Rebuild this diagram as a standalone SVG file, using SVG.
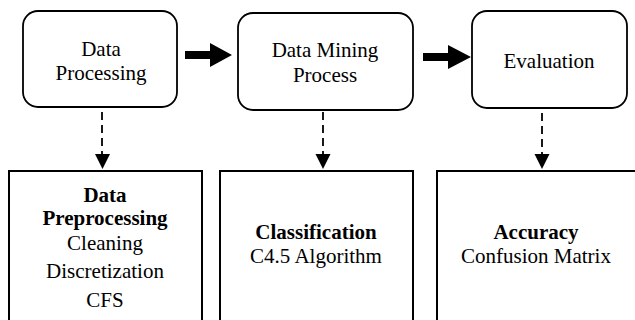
<svg xmlns="http://www.w3.org/2000/svg" width="635" height="320" viewBox="0 0 635 320">
<style>
.rb{fill:#fff;stroke:#000;stroke-width:1.8}
.sb{fill:#fff;stroke:#000;stroke-width:2}
text{font-family:Liberation Serif,Tinos,Times New Roman,Times,DejaVu Serif,serif;font-size:21px;fill:#000;text-anchor:middle}
.b{font-weight:bold}
.d{stroke:#000;stroke-width:1.8;stroke-dasharray:8 5;fill:none}
</style>
<g id="n1"><rect class="rb" x="23" y="11" width="154" height="96" rx="15"/>
<text x="101" y="56">Data</text><text x="101" y="80">Processing</text></g>
<g id="n2"><rect class="rb" x="238" y="13" width="175" height="97" rx="15"/>
<text x="325" y="57">Data Mining</text><text x="325" y="82">Process</text></g>
<g id="n3"><rect class="rb" x="472" y="11" width="155" height="97" rx="15"/>
<text x="549" y="68">Evaluation</text></g>
<g id="n4"><rect class="sb" x="9" y="171" width="193" height="170"/>
<text class="b" x="105" y="202">Data</text>
<text class="b" x="105" y="225">Preprocessing</text>
<text x="105" y="250">Cleaning</text>
<text x="105" y="278">Discretization</text>
<text x="105" y="307">CFS</text></g>
<g id="n5"><rect class="sb" x="220" y="171" width="193" height="170"/>
<text class="b" x="316" y="239">Classification</text>
<text x="316" y="263">C4.5 Algorithm</text></g>
<g id="n6"><rect class="sb" x="437" y="171" width="220" height="170"/>
<text class="b" x="536" y="239">Accuracy</text>
<text x="536" y="263">Confusion Matrix</text></g>
<g id="connectors">
<path d="M185,51 H210 V43 L232,55 L210,67 V59 H185 Z" fill="#000"/>
<path d="M423,53 H448 V45 L471,57 L448,69 V61 H423 Z" fill="#000"/>
<line class="d" x1="102" y1="112" x2="102" y2="156"/>
<path d="M95,154 L110,154 L102.5,169 Z" fill="#000"/>
<line class="d" x1="323" y1="112" x2="323" y2="156"/>
<path d="M315.5,154 L330.5,154 L323,169 Z" fill="#000"/>
<line class="d" x1="542" y1="113" x2="542" y2="156"/>
<path d="M534.5,154 L549.5,154 L542,169 Z" fill="#000"/>
</g>
</svg>
